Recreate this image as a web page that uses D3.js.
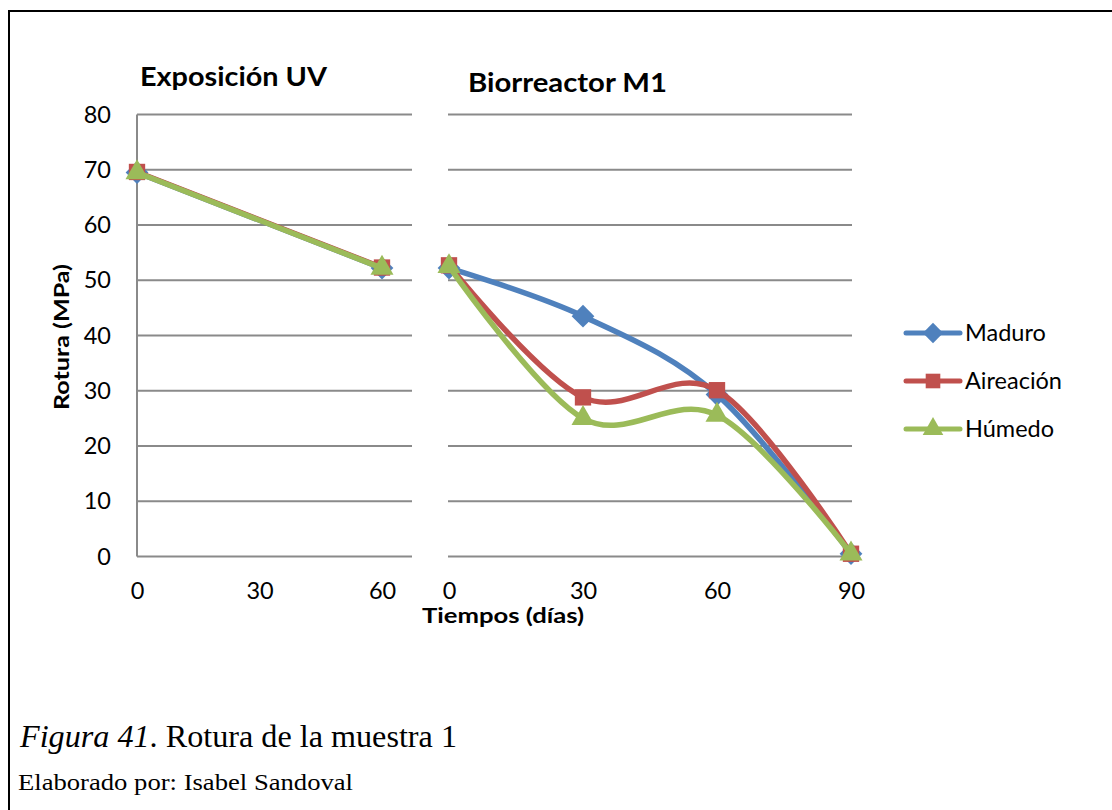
<!DOCTYPE html>
<html>
<head>
<meta charset="utf-8">
<script src="https://cdn.jsdelivr.net/npm/d3@7"></script>
<style>
  html, body { margin: 0; padding: 0; background: #fff; }
  svg { display: block; }
</style>
</head>
<body>
<svg id="chart" width="1112" height="810"></svg>
<script>
// Rotura (MPa) por tiempo de exposición
const yTicks = [0, 10, 20, 30, 40, 50, 60, 70, 80];

// Panel 1: Exposición UV
const uvDays = [0, 60];
const uvTickLabels = [0, 30, 60];
const uvMaduro = [69.5, 52.2];
const uvAireacion = [69.6, 52.3];
const uvHumedo = [69.5, 52.2];

// Panel 2: Biorreactor M1
const bioDays = [0, 30, 60, 90];
const bioTickLabels = [0, 30, 60, 90];
const bioMaduro = [52.2, 43.5, 29.3, 0.5];
const bioAireacion = [52.7, 28.8, 30.1, 0.5];
const bioHumedo = [52.5, 25.0, 25.6, 0.5];

const seriesNames = ["Maduro", "Aireación", "Húmedo"];
const seriesColors = ["#4F81BD", "#C0504D", "#9BBB59"];
const seriesSymbols = [d3.symbolDiamond2, d3.symbolSquare2, d3.symbolTriangle2];

const svg = d3.select("#chart");
const FONT = "Lato, 'Open Sans', sans-serif";
const SERIF = "'Liberation Serif', 'DejaVu Serif', serif";

// outer frame (top and left rules)
svg.append("line").attr("x1", 9).attr("x2", 1112).attr("y1", 11).attr("y2", 11)
  .attr("stroke", "#000").attr("stroke-width", 2);
svg.append("line").attr("x1", 9).attr("x2", 9).attr("y1", 10).attr("y2", 810)
  .attr("stroke", "#000").attr("stroke-width", 2);

const y = d3.scaleLinear().domain([0, 80]).range([556.5, 114.5]);
const xUV = d3.scaleLinear().domain([0, 60]).range([137, 382]);
const xBio = d3.scaleLinear().domain([0, 90]).range([449, 851]);

const GRID = "#8a8a8a";

// gridlines
const panels = [
  { x: xUV, x0: 137, x1: 412 },
  { x: xBio, x0: 448, x1: 852 }
];
panels.forEach(p => {
  svg.append("g").selectAll("line").data(yTicks).join("line")
    .attr("x1", p.x0).attr("x2", p.x1)
    .attr("y1", d => y(d)).attr("y2", d => y(d))
    .attr("stroke", GRID).attr("stroke-width", 2);
});
// vertical axis line of the first panel
svg.append("line").attr("x1", 137).attr("x2", 137)
  .attr("y1", y(80)).attr("y2", y(0))
  .attr("stroke", GRID).attr("stroke-width", 2);

// y axis labels
const yAxis = svg.append("g").attr("transform", "translate(137,0)")
  .call(d3.axisLeft(y).tickValues(yTicks).tickSize(0).tickPadding(26).tickFormat(d3.format("d")));
yAxis.select(".domain").remove();
yAxis.selectAll("text").attr("font-family", FONT).attr("font-size", 23.5).attr("fill", "#000");

// x axis labels
function xAxis(scale, ticks) {
  const g = svg.append("g").attr("transform", `translate(0,${y(0)})`)
    .call(d3.axisBottom(scale).tickValues(ticks).tickSize(0).tickPadding(26).tickFormat(d3.format("d")));
  g.select(".domain").remove();
  g.selectAll("text").attr("font-family", FONT).attr("font-size", 23.5).attr("fill", "#000");
}
xAxis(xUV, uvTickLabels);
xAxis(xBio, bioTickLabels);

// series drawing
const symbolSizes = [330, 340, 380];
function drawPanel(scale, days, valuesList, curve) {
  valuesList.forEach((vals, i) => {
    const pts = days.map((d, k) => [d, vals[k]]);
    const line = d3.line().x(d => scale(d[0])).y(d => y(d[1])).curve(curve);
    svg.append("path").attr("d", line(pts))
      .attr("fill", "none").attr("stroke", seriesColors[i])
      .attr("stroke-width", 5.5).attr("stroke-linejoin", "round").attr("stroke-linecap", "round");
    svg.append("g").selectAll("path").data(pts).join("path")
      .attr("transform", d => `translate(${scale(d[0])},${y(d[1])})`)
      .attr("d", d3.symbol().type(seriesSymbols[i]).size(symbolSizes[i]))
      .attr("fill", seriesColors[i]);
  });
}
drawPanel(xUV, uvDays, [uvMaduro, uvAireacion, uvHumedo], d3.curveLinear);
drawPanel(xBio, bioDays, [bioMaduro, bioAireacion, bioHumedo], d3.curveCatmullRom.alpha(0));

// titles
svg.append("text").attr("x", 140).attr("y", 86)
  .attr("font-family", FONT).attr("font-weight", "bold").attr("font-size", 26)
  .attr("textLength", 187).attr("lengthAdjust", "spacingAndGlyphs")
  .text("Exposición UV");
svg.append("text").attr("x", 468).attr("y", 92)
  .attr("font-family", FONT).attr("font-weight", "bold").attr("font-size", 26)
  .attr("textLength", 199).attr("lengthAdjust", "spacingAndGlyphs")
  .text("Biorreactor M1");

// axis titles
svg.append("text").attr("transform", "translate(69,337) rotate(-90)")
  .attr("text-anchor", "middle")
  .attr("font-family", FONT).attr("font-weight", "bold").attr("font-size", 21)
  .attr("textLength", 146).attr("lengthAdjust", "spacingAndGlyphs")
  .text("Rotura (MPa)");
svg.append("text").attr("x", 503).attr("y", 623)
  .attr("text-anchor", "middle")
  .attr("font-family", FONT).attr("font-weight", "bold").attr("font-size", 21)
  .attr("textLength", 162).attr("lengthAdjust", "spacingAndGlyphs")
  .text("Tiempos (días)");

// legend
const legendY = [333, 381, 429];
const lg = svg.append("g");
seriesNames.forEach((name, i) => {
  const row = lg.append("g").attr("transform", `translate(0,${legendY[i]})`);
  row.append("line").attr("x1", 906).attr("x2", 960).attr("y1", 0).attr("y2", 0)
    .attr("stroke", seriesColors[i]).attr("stroke-width", 5).attr("stroke-linecap", "round");
  row.append("path").attr("transform", "translate(933,0)")
    .attr("d", d3.symbol().type(seriesSymbols[i]).size(symbolSizes[i] * 0.8))
    .attr("fill", seriesColors[i]);
  row.append("text").attr("x", 965).attr("y", 8)
    .attr("font-family", FONT).attr("font-size", 23.5).attr("fill", "#000")
    .text(name);
});

// caption
const cap = svg.append("text").attr("x", 20).attr("y", 747)
  .attr("font-family", SERIF).attr("font-size", 31).attr("fill", "#000")
  .attr("textLength", 437).attr("lengthAdjust", "spacingAndGlyphs");
cap.append("tspan").attr("font-style", "italic").text("Figura 41");
cap.append("tspan").text(". Rotura de la muestra 1");

svg.append("text").attr("x", 18).attr("y", 790)
  .attr("font-family", SERIF).attr("font-size", 24).attr("fill", "#000")
  .attr("textLength", 335).attr("lengthAdjust", "spacingAndGlyphs")
  .text("Elaborado por: Isabel Sandoval");
</script>
</body>
</html>
